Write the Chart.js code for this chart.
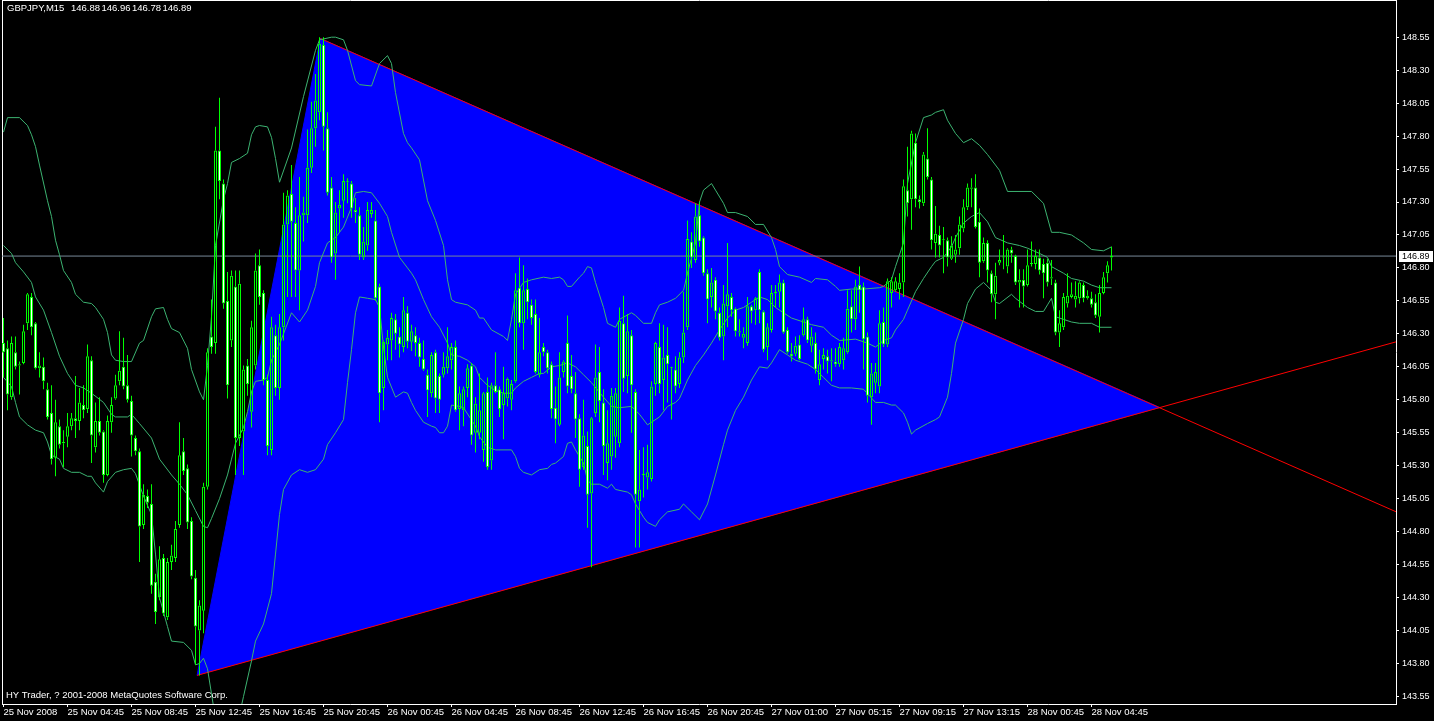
<!DOCTYPE html>
<html><head><meta charset="utf-8">
<script src="https://cdn.jsdelivr.net/npm/chart.js@4.4.1/dist/chart.umd.min.js"></script>
<style>html,body{margin:0;padding:0;background:#000;overflow:hidden}canvas{display:block}</style>
</head><body>
<canvas id="c" width="1434" height="721"></canvas>
<script>
const symbolTitle = "GBPJPY,M15";
const copyright = "HY Trader, ? 2001-2008 MetaQuotes Software Corp.";
const timeLabels = ["25 Nov 2008","25 Nov 04:45","25 Nov 08:45","25 Nov 12:45","25 Nov 16:45","25 Nov 20:45","26 Nov 00:45","26 Nov 04:45","26 Nov 08:45","26 Nov 12:45","26 Nov 16:45","26 Nov 20:45","27 Nov 01:00","27 Nov 05:15","27 Nov 09:15","27 Nov 13:15","28 Nov 00:45","28 Nov 04:45"];
const timeLabelBars = [0,16,32,48,64,80,96,112,128,144,160,176,192,208,224,240,256,272];
const priceTicks = [143.55,143.80,144.05,144.30,144.55,144.80,145.05,145.30,145.55,145.80,146.05,146.30,146.55,146.80,147.05,147.30,147.55,147.80,148.05,148.30,148.55];

const open = [
146.23,146.19,145.82,146.16,146.06,146.08,146.38,146.58,146.38,146.04,
146.05,145.88,145.70,145.36,145.60,145.47,145.52,145.60,145.66,145.64,
145.76,145.73,146.10,145.44,145.64,145.56,145.23,145.63,145.81,145.94,
146.05,145.91,145.79,145.51,145.41,144.85,145.07,145.01,144.42,144.30,
144.60,144.15,144.57,144.60,144.85,145.41,145.28,144.88,144.45,144.05,
144.20,145.14,146.28,146.23,147.69,147.44,146.55,146.25,146.66,145.51,
145.56,146.06,145.71,146.06,146.82,146.61,145.95,145.42,146.29,145.89,
146.35,147.13,147.36,147.14,146.78,147.20,147.20,147.56,147.86,147.98,
148.49,147.86,147.41,146.91,147.25,147.31,147.45,147.44,147.24,147.20,
146.88,146.97,147.21,147.16,146.66,145.89,146.22,146.25,146.41,146.28,
146.20,146.46,146.24,146.29,146.23,146.11,145.99,145.85,146.16,145.98,
145.99,146.04,146.10,146.20,145.73,145.72,145.89,146.06,145.55,145.55,
145.42,145.86,145.34,145.91,145.88,145.76,145.81,145.80,145.94,146.65,
146.38,146.64,146.52,146.45,145.99,146.20,146.16,146.07,145.74,145.61,
146.01,146.23,145.98,145.85,145.66,145.29,145.45,145.09,145.70,146.01,
145.78,145.32,145.37,145.52,145.47,146.38,145.98,146.29,145.86,145.03,
145.23,145.21,145.20,145.92,146.20,145.95,146.14,146.04,146.03,145.92,
146.12,146.35,147.00,146.86,147.20,147.03,146.76,146.58,146.71,146.46,
146.28,146.51,146.58,146.49,146.31,146.27,146.23,146.51,146.48,146.77,
146.47,146.20,146.33,146.61,146.62,146.69,146.33,146.15,146.15,146.22,
146.29,146.41,146.21,146.23,145.95,146.11,146.13,146.09,146.09,146.07,
146.10,146.16,146.51,146.41,146.67,146.66,146.28,145.82,145.93,145.90,
146.39,146.22,146.61,146.63,146.64,146.69,147.39,147.32,147.75,147.32,
147.29,147.63,147.47,146.99,147.05,147.01,147.01,146.87,146.90,146.95,
147.10,147.26,147.40,147.41,147.15,146.85,146.99,146.76,146.60,146.84,
146.88,146.81,146.94,146.89,146.69,146.71,146.67,146.83,146.83,146.88,
146.83,146.84,146.72,146.69,146.31,146.35,146.53,146.58,146.56,146.57,
146.67,146.57,146.57,146.54,146.43,146.61,146.76,146.88];
const high = [
146.42,146.25,146.28,146.28,146.09,146.37,146.61,146.61,146.39,146.16,
146.12,145.93,145.91,145.80,145.65,145.57,145.70,145.70,145.98,145.89,
145.91,146.22,146.13,145.78,145.82,145.57,145.68,145.82,145.99,146.32,
146.27,146.14,145.83,145.53,145.43,145.16,145.12,145.16,144.48,144.69,
144.63,144.60,144.70,144.88,145.63,145.51,145.31,144.91,144.51,144.28,
145.17,146.19,146.56,147.87,148.09,147.47,146.77,146.78,146.78,146.78,
146.06,146.11,146.40,146.91,146.94,146.63,145.99,146.43,146.37,146.45,
147.37,147.39,147.58,147.26,147.49,147.34,147.85,148.06,148.27,148.55,
148.55,147.98,147.49,147.30,147.39,147.51,147.48,147.46,147.33,147.26,
147.11,147.30,147.30,147.24,146.68,146.25,146.33,146.46,146.45,146.35,
146.58,146.51,146.37,146.35,146.27,146.25,146.03,146.16,146.18,146.00,
146.16,146.35,146.23,146.25,145.90,145.90,146.07,146.08,145.82,146.00,
145.86,145.97,145.93,146.16,145.90,146.05,145.97,145.95,146.76,146.88,
146.82,146.72,146.56,146.56,146.42,146.23,146.18,146.09,145.90,146.16,
146.10,146.44,146.14,146.01,145.69,145.80,145.56,145.67,146.22,146.20,
145.88,145.72,145.89,145.89,146.50,146.59,146.45,146.33,145.88,145.42,
145.44,145.46,145.94,146.24,146.38,146.37,146.35,146.05,146.13,146.16,
146.62,147.16,147.07,147.29,147.30,147.04,146.79,146.80,146.73,146.50,
146.67,146.99,146.61,146.50,146.41,146.35,146.58,146.52,146.58,146.79,
146.48,146.38,146.67,146.67,146.75,146.71,146.35,146.23,146.28,146.29,
146.50,146.43,146.35,146.31,146.18,146.19,146.18,146.19,146.19,146.23,
146.27,146.63,146.63,146.71,146.81,146.69,146.31,146.08,146.08,146.48,
146.50,146.72,146.73,146.73,146.76,147.47,147.72,147.84,147.82,147.35,
147.68,147.86,147.49,147.27,147.12,147.11,147.03,147.04,147.05,147.19,
147.32,147.44,147.48,147.51,147.25,147.03,147.01,146.78,146.84,146.94,
147.05,146.95,146.96,146.90,146.79,146.79,146.94,147.00,146.94,146.94,
146.87,146.87,146.86,146.71,146.48,146.61,146.76,146.69,146.70,146.70,
146.69,146.63,146.62,146.60,146.67,146.77,146.85,146.96];
const low = [
145.97,145.72,145.80,146.03,145.84,146.07,146.33,146.29,146.03,145.97,
145.88,145.65,145.31,145.22,145.43,145.29,145.44,145.57,145.51,145.57,
145.66,145.70,145.32,145.40,145.53,145.17,145.22,145.55,145.80,145.91,
145.88,145.78,145.37,145.38,144.57,144.82,144.98,144.33,144.10,144.28,
144.16,144.13,144.51,144.57,144.83,145.23,144.82,144.44,143.79,143.71,
144.03,145.12,146.15,146.15,147.32,146.49,145.81,146.20,145.23,145.45,
145.23,145.83,145.59,146.03,146.52,145.91,145.38,145.38,145.83,145.80,
146.25,146.58,146.58,146.58,146.48,147.00,147.14,147.52,147.72,147.92,
147.69,147.35,146.84,146.71,147.07,147.18,147.29,147.18,147.14,146.86,
146.86,146.93,147.18,146.55,145.63,145.72,146.10,146.10,146.18,146.12,
146.16,146.19,146.17,146.13,146.05,146.02,145.67,145.82,145.70,145.70,
145.97,146.00,146.03,145.71,145.57,145.60,145.82,145.46,145.40,145.50,
145.33,145.27,145.27,145.85,145.67,145.50,145.75,145.72,145.93,146.35,
146.18,146.41,146.37,146.00,145.97,146.13,146.00,145.66,145.47,145.60,
145.97,145.85,145.85,145.51,145.14,145.27,144.83,144.53,145.67,145.63,
145.23,145.19,145.27,145.36,145.44,145.86,145.85,145.55,144.68,144.68,
145.06,145.12,145.18,145.83,145.85,145.72,145.78,145.65,145.85,145.89,
146.08,146.33,146.80,146.84,146.96,146.74,146.38,146.50,146.41,146.25,
146.10,146.35,146.43,146.28,146.28,146.19,146.21,146.38,146.37,146.38,
146.16,146.10,146.31,146.50,146.50,146.30,146.15,146.09,146.13,146.10,
146.28,146.23,146.16,146.00,145.91,146.03,146.00,145.94,146.05,146.05,
146.03,146.15,146.31,146.33,146.46,146.03,145.78,145.61,145.85,145.85,
146.20,146.20,146.50,146.62,146.56,146.58,147.19,147.09,147.26,147.25,
147.27,147.47,146.94,146.88,146.88,146.76,146.81,146.86,146.84,146.90,
147.07,147.24,147.26,147.10,146.73,146.84,146.69,146.54,146.41,146.82,
146.79,146.76,146.84,146.67,146.50,146.50,146.66,146.81,146.79,146.75,
146.57,146.66,146.67,146.29,146.20,146.33,146.50,146.57,146.50,146.53,
146.54,146.56,146.50,146.42,146.31,146.60,146.69,146.78];
const close = [
146.16,145.84,146.23,146.05,146.07,146.32,146.60,146.35,146.04,146.06,
145.94,145.67,145.35,145.63,145.46,145.48,145.60,145.66,145.64,145.78,
145.72,146.13,145.53,145.64,145.55,145.23,145.64,145.76,145.91,146.02,
145.90,145.80,145.53,145.41,144.84,145.08,145.02,144.39,144.19,144.59,
144.18,144.57,144.62,144.82,145.38,145.26,144.87,144.46,144.08,144.24,
145.14,146.16,146.20,147.69,147.46,146.53,145.91,146.74,145.51,146.68,
146.03,145.92,146.35,146.78,146.58,145.95,145.45,146.35,145.89,146.35,
147.13,147.35,147.15,146.78,147.20,147.22,147.56,147.86,148.07,148.50,
147.87,147.37,146.88,147.22,147.28,147.46,147.45,147.25,147.22,146.90,
147.00,147.24,147.24,146.57,145.85,146.24,146.27,146.42,146.30,146.22,
146.48,146.24,146.32,146.23,146.12,146.03,145.87,146.14,145.81,145.80,
146.05,146.13,146.20,145.72,145.85,145.88,146.04,145.53,145.77,145.72,
145.85,145.29,145.91,145.86,145.73,145.85,145.96,145.92,146.63,146.38,
146.63,146.54,146.42,146.01,146.16,146.16,146.04,145.73,145.65,145.97,
146.09,145.90,145.88,145.65,145.27,145.53,145.08,145.66,145.97,145.79,
145.45,145.47,145.83,145.85,146.40,145.96,146.32,145.91,145.08,145.12,
145.23,145.25,145.90,146.23,145.92,146.12,146.07,146.04,145.90,146.12,
146.31,147.02,146.88,147.19,147.00,146.76,146.56,146.69,146.47,146.27,
146.53,146.60,146.48,146.32,146.32,146.30,146.51,146.47,146.57,146.48,
146.18,146.35,146.61,146.61,146.69,146.31,146.16,146.13,146.21,146.11,
146.41,146.25,146.28,146.03,146.07,146.14,146.09,146.10,146.07,146.20,
146.19,146.49,146.41,146.66,146.63,146.26,145.83,146.00,146.01,146.38,
146.22,146.70,146.70,146.70,146.69,147.42,147.29,147.82,147.32,147.30,
147.66,147.49,147.01,147.06,146.97,147.01,146.88,146.97,146.94,147.13,
147.26,147.41,147.41,147.11,146.84,146.99,146.78,146.60,146.74,146.86,
146.88,146.94,146.91,146.69,146.71,146.66,146.82,146.83,146.89,146.78,
146.76,146.69,146.73,146.31,146.38,146.58,146.59,146.60,146.59,146.69,
146.57,146.59,146.52,146.44,146.61,146.73,146.82,146.89];

// Bollinger bands (20, 2) at sample bars
const bbUpperBars = [0,1,4,6,7,8,9,11,12,13,14,15,17,18,20,22,23,25,26,27,28,30,32,34,35,37,38,40,41,42,44,46,47,49,50,51,52,53,55,56,57,59,61,62,63,64,66,67,68,69,72,75,78,79,82,83,85,86,88,89,92,94,96,97,98,100,101,102,104,106,108,110,111,112,113,116,118,119,120,122,125,126,127,128,130,132,135,137,139,140,141,142,144,145,146,147,148,150,151,153,154,157,158,160,162,163,164,166,168,170,171,173,174,175,177,178,180,181,183,186,188,190,192,193,194,196,199,202,203,206,208,209,212,215,219,220,222,223,225,226,228,230,232,233,235,236,238,240,242,244,246,249,251,257,260,262,264,267,268,270,272,275,277];
const bbUpper = [147.83,147.94,147.94,147.88,147.81,147.72,147.58,147.31,147.19,147.01,146.90,146.78,146.69,146.60,146.54,146.53,146.50,146.41,146.31,146.14,146.10,146.09,146.09,146.23,146.25,146.43,146.49,146.50,146.41,146.34,146.31,146.19,146.03,145.86,145.80,146.06,146.43,146.97,147.32,147.44,147.60,147.63,147.67,147.81,147.87,147.88,147.87,147.79,147.63,147.45,147.71,148.10,148.45,148.53,148.55,148.55,148.53,148.45,148.22,148.19,148.18,148.35,148.41,148.35,148.13,147.82,147.75,147.71,147.62,147.31,147.16,146.97,146.71,146.56,146.54,146.52,146.48,146.42,146.42,146.33,146.28,146.25,146.41,146.60,146.69,146.71,146.73,146.72,146.73,146.71,146.66,146.66,146.73,146.76,146.81,146.80,146.69,146.50,146.38,146.35,146.41,146.46,146.44,146.38,146.38,146.46,146.52,146.54,146.57,146.63,146.76,146.99,147.30,147.39,147.44,147.39,147.29,147.22,147.22,147.19,147.13,147.13,147.03,146.94,146.81,146.75,146.73,146.69,146.72,146.71,146.66,146.63,146.64,146.64,146.65,146.66,146.71,146.81,146.99,147.44,147.75,147.94,147.96,147.98,148.00,147.92,147.82,147.75,147.78,147.73,147.66,147.54,147.38,147.38,147.29,147.07,147.07,147.05,147.03,146.99,146.94,146.93,146.96];
const bbMiddleBars = [0,2,3,5,7,8,10,12,14,16,18,20,22,25,27,28,31,32,34,37,39,42,44,46,48,50,51,52,54,56,57,58,60,61,62,63,65,66,67,69,72,74,76,78,79,81,83,85,87,88,90,92,94,96,97,99,101,102,103,105,107,109,111,112,114,116,118,119,121,123,125,127,128,130,132,134,135,137,139,141,143,145,147,150,152,154,157,159,161,162,164,166,168,169,171,173,175,177,179,181,183,185,187,189,191,193,195,197,200,202,205,207,209,213,216,218,220,222,223,225,226,228,230,232,233,235,237,238,240,242,244,246,248,251,254,256,259,261,262,265,267,270,272,274,277];
const bbMiddle = [146.97,146.91,146.84,146.77,146.69,146.58,146.48,146.31,146.13,146.00,145.91,145.89,145.85,145.78,145.69,145.67,145.67,145.69,145.62,145.51,145.35,145.23,145.16,145.08,144.96,144.84,144.83,144.90,145.05,145.23,145.35,145.47,145.59,145.71,145.86,145.94,145.95,145.97,146.10,146.22,146.46,146.39,146.48,146.66,146.84,146.99,147.03,147.11,147.26,147.37,147.38,147.37,147.29,147.19,147.07,146.88,146.80,146.76,146.71,146.56,146.43,146.35,146.23,146.14,146.13,146.10,146.05,145.97,145.91,145.87,145.85,145.85,145.89,145.94,145.97,146.00,146.00,146.05,146.06,146.08,146.05,145.99,145.93,145.82,145.75,145.74,145.75,145.69,145.61,145.63,145.67,145.75,145.78,145.81,145.95,146.06,146.14,146.23,146.33,146.42,146.48,146.50,146.54,146.58,146.56,146.50,146.46,146.42,146.39,146.37,146.35,146.29,146.25,146.26,146.23,146.20,146.25,146.27,146.33,146.41,146.48,146.62,146.72,146.81,146.85,146.88,146.96,147.03,147.14,147.19,147.22,147.15,147.03,146.99,146.97,146.95,146.91,146.88,146.81,146.76,146.72,146.70,146.67,146.65,146.65];
const bbLowerBars = [0,2,3,4,6,8,10,11,12,14,15,17,19,21,22,23,25,26,28,30,32,33,35,37,38,39,41,42,45,47,48,49,50,51,52,53,55,57,59,60,62,63,65,67,68,69,70,72,74,76,78,80,81,83,85,86,87,88,89,91,93,94,95,96,98,100,101,102,103,105,107,108,109,110,111,112,114,115,118,119,121,123,127,128,129,130,132,134,136,137,138,140,141,142,143,145,146,147,149,151,152,153,156,157,158,160,161,163,164,166,169,170,172,174,176,178,180,181,183,185,187,189,191,192,194,196,198,201,203,205,207,209,212,215,218,220,222,223,225,226,227,228,231,233,234,236,237,238,240,241,243,245,247,248,249,252,253,256,258,260,261,262,263,265,267,269,272,274,277];
const bbLower = [145.97,145.90,145.78,145.67,145.61,145.57,145.55,145.48,145.38,145.35,145.28,145.25,145.25,145.22,145.22,145.17,145.10,145.18,145.25,145.27,145.28,145.24,145.07,144.93,144.63,144.30,144.08,143.97,143.96,143.90,143.79,143.80,143.84,143.76,143.57,143.38,143.07,143.19,143.41,143.55,143.82,143.97,144.10,144.33,144.63,144.93,145.12,145.23,145.27,145.25,145.27,145.35,145.46,145.55,145.65,145.93,146.18,146.46,146.58,146.57,146.56,146.50,146.20,145.97,145.82,145.86,145.85,145.78,145.72,145.63,145.60,145.59,145.55,145.55,145.60,145.76,145.75,145.74,145.60,145.52,145.44,145.42,145.42,145.37,145.28,145.25,145.23,145.27,145.28,145.31,145.32,145.37,145.47,145.48,145.42,145.32,145.19,145.16,145.16,145.13,145.16,145.12,145.10,145.08,145.01,144.91,144.87,144.84,144.89,144.95,144.97,145.01,144.95,144.89,145.01,145.23,145.46,145.57,145.72,145.82,145.95,146.05,146.04,146.08,146.18,146.14,146.10,146.07,146.03,145.97,145.91,145.89,145.89,145.88,145.78,145.78,145.76,145.76,145.70,145.63,145.54,145.57,145.62,145.65,145.67,145.82,146.00,146.23,146.41,146.53,146.64,146.69,146.63,146.54,146.53,146.60,146.57,146.50,146.47,146.47,146.52,146.57,146.43,146.41,146.39,146.38,146.38,146.35,146.35];

// Hand-drawn triangle object and its two trend lines (bar index, price)
const triangleBars = [48.4, 79.2, 289.2];
const trianglePrices = [143.71, 148.54, 145.74];
const upperTrendBars = [79.2, 348.2];
const upperTrendPrices = [148.54, 144.95];
const lowerTrendBars = [48.4, 348.2];
const lowerTrendPrices = [143.71, 146.24];

const X_MIN = -0.375, X_MAX = 348.125;
const Y_MIN = 143.493, Y_MAX = 148.832;
const LIME = '#00ff00', BAND = '#3cb371';

const n = close.length;
const idx = Array.from({length: n}, (_, i) => i);
const bodyData = idx.map(i => ({x: i, y: [open[i], close[i]]}));
const upWick = idx.map(i => ({x: i, y: [Math.max(open[i], close[i]), high[i]]}));
const dnWick = idx.map(i => ({x: i, y: [low[i], Math.min(open[i], close[i])]}));
const bodyFill = idx.map(i => close[i] < open[i] ? '#ffffff' : 'rgba(0,0,0,0)');
const pts = (xs, ys) => xs.map((x, k) => ({x, y: ys[k]}));
const last = n - 1;
const bid = close[last];

const lineDs = (data, color, order, extra) => Object.assign({
  type: 'line', data, borderColor: color, borderWidth: 1, pointRadius: 0,
  pointHoverRadius: 0, tension: 0, fill: false, order
}, extra || {});

const overlay = {
  id: 'overlay',
  afterDatasetsDraw(chart) {
    const ctx = chart.ctx;
    ctx.save();
    ctx.fillStyle = '#ffffff';
    ctx.textBaseline = 'middle';
    ctx.textAlign = 'left';
    ctx.font = '9.5px "Liberation Sans"';
    ctx.fillText(symbolTitle, 7, 8);
    const vals = [open[last], high[last], low[last], close[last]].map(v => v.toFixed(2));
    let x = 71;
    vals.forEach(v => { ctx.fillText(v, x, 8); x += 30.5; });
    ctx.font = '9.5px "Liberation Sans"';
    ctx.fillText(copyright, 6, 695);
    ctx.restore();
  },
  afterDraw(chart) {
    const ys = chart.scales.y;
    const y = Math.round(ys.getPixelForValue(bid));
    const ctx = chart.ctx;
    ctx.save();
    ctx.fillStyle = '#ffffff';
    ctx.fillRect(ys.left + 3, y - 5, chart.width - ys.left - 4, 11);
    ctx.fillStyle = '#000000';
    ctx.font = '9px "Liberation Sans"';
    ctx.textBaseline = 'middle';
    ctx.textAlign = 'left';
    ctx.fillText(bid.toFixed(2), ys.left + 6, y + 0.5);
    ctx.restore();
  }
};

const axisGrid = {display: true, drawOnChartArea: false, drawTicks: true, tickLength: 3, color: '#ffffff', lineWidth: 1, offset: false};
const axisBorder = {display: true, color: '#ffffff', width: 1};
const noPad = s => { s.paddingTop = 0; s.paddingBottom = 0; s.paddingLeft = 0; s.paddingRight = 0; };

new Chart(document.getElementById('c'), {
  type: 'bar',
  data: {
    datasets: [
      {type: 'bar', data: bodyData, backgroundColor: bodyFill, borderColor: LIME, borderWidth: 1,
       borderSkipped: false, grouped: false, maxBarThickness: 3, categoryPercentage: 1, barPercentage: 1,
       minBarLength: 1, inflateAmount: 0, order: 1},
      {type: 'bar', data: upWick, backgroundColor: LIME, borderWidth: 0, grouped: false,
       maxBarThickness: 1, categoryPercentage: 1, barPercentage: 1, inflateAmount: 0, order: 2},
      {type: 'bar', data: dnWick, backgroundColor: LIME, borderWidth: 0, grouped: false,
       maxBarThickness: 1, categoryPercentage: 1, barPercentage: 1, inflateAmount: 0, order: 2},
      lineDs(pts(bbUpperBars, bbUpper), BAND, 5),
      lineDs(pts(bbMiddleBars, bbMiddle), BAND, 5),
      lineDs(pts(bbLowerBars, bbLower), BAND, 5),
      lineDs([{x: X_MIN, y: bid}, {x: X_MAX, y: bid}], '#778899', 7),
      lineDs(pts(upperTrendBars, upperTrendPrices), '#ff0000', 8),
      lineDs(pts(lowerTrendBars, lowerTrendPrices), '#ff0000', 8),
      lineDs(pts(triangleBars, trianglePrices), '#0000ff', 10, {fill: 'shape', backgroundColor: '#0000ff'})
    ]
  },
  options: {
    responsive: false, animation: false, devicePixelRatio: 1,
    layout: {padding: {left: 2, top: 0, right: 0, bottom: 0}},
    plugins: {legend: {display: false}, tooltip: {enabled: false}, title: {display: false}},
    events: [],
    scales: {
      x: {type: 'linear', position: 'bottom', min: X_MIN, max: X_MAX, offset: false,
          afterBuildTicks: s => { s.ticks = timeLabelBars.map(v => ({value: v})); },
          afterFit: s => { s.height = 17; noPad(s); },
          grid: axisGrid, border: axisBorder,
          ticks: {autoSkip: false, maxRotation: 0, minRotation: 0, align: 'start', padding: 0,
                  color: '#ffffff', font: {family: 'Liberation Sans', size: 9.5},
                  callback: (v, i) => timeLabels[i]}},
      y: {type: 'linear', position: 'right', min: Y_MIN, max: Y_MAX,
          afterBuildTicks: s => { s.ticks = priceTicks.map(v => ({value: v})); },
          afterFit: s => { s.width = 38; noPad(s); },
          grid: axisGrid, border: axisBorder,
          ticks: {autoSkip: false, padding: 3, color: '#ffffff', font: {family: 'Liberation Sans', size: 9},
                  callback: v => Number(v).toFixed(2)}},
      yl: {type: 'linear', position: 'left', min: 0, max: 1, grid: {display: false},
           ticks: {display: false}, border: axisBorder, afterFit: s => { s.width = 0; noPad(s); }},
      xt: {type: 'linear', position: 'top', min: 0, max: 1, grid: {display: false},
           ticks: {display: false}, border: axisBorder, afterFit: s => { s.height = 0; noPad(s); }}
    }
  },
  plugins: [overlay]
});
</script>
</body></html>
